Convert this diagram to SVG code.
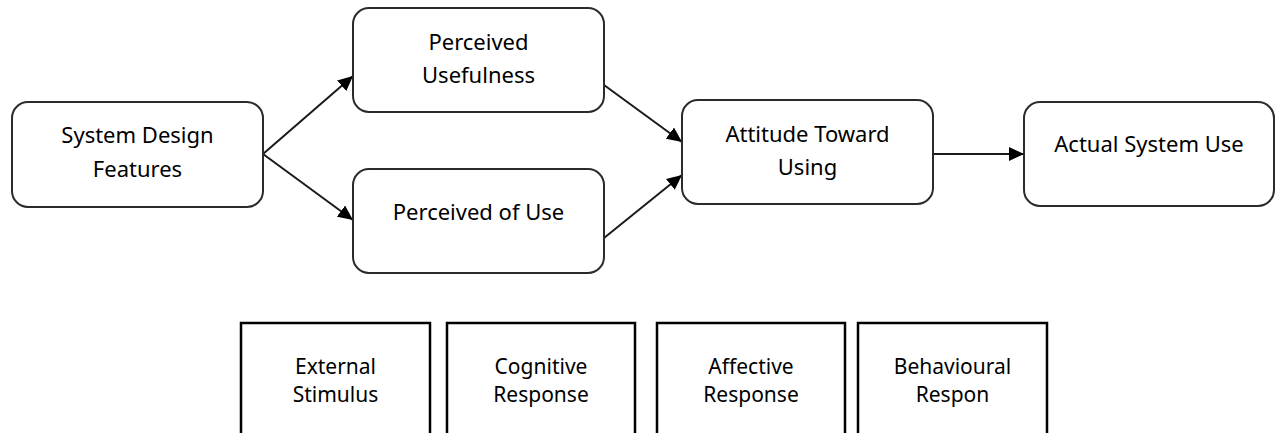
<svg xmlns="http://www.w3.org/2000/svg" width="1275" height="433" viewBox="0 0 1275 433">
<defs>
<style>
.node rect{fill:#fff;stroke:#2b2b2b;stroke-width:2}
.stage rect{fill:#fff;stroke:#000;stroke-width:2.5}
.t{font-family:"Noto Sans","Open Sans",sans-serif;font-size:22px;fill:#000;text-anchor:middle}
.s{font-family:"Noto Sans","Open Sans",sans-serif;font-size:21px;fill:#000;text-anchor:middle}
.conn line{stroke:#1a1a1a;stroke-width:2;marker-end:url(#arr)}
</style>
<marker id="arr" markerUnits="userSpaceOnUse" markerWidth="16" markerHeight="14" refX="15" refY="7" orient="auto">
<path d="M0,0 L15,7 L0,14 Z" fill="#000"/>
</marker>
</defs>
<rect width="1275" height="433" fill="#fff"/>
<g id="connectors" class="conn">
<line x1="263" y1="154" x2="353" y2="76"/>
<line x1="263" y1="154" x2="353" y2="220"/>
<line x1="604" y1="85" x2="682" y2="142"/>
<line x1="604" y1="238" x2="682" y2="175"/>
<line x1="933" y1="154" x2="1024" y2="154"/>
</g>
<g id="n-sdf" class="node">
<rect x="12" y="102" width="251" height="105" rx="16"/>
<text class="t" x="137.5" y="143">System Design</text>
<text class="t" x="137.5" y="177">Features</text>
</g>
<g id="n-pu" class="node">
<rect x="353" y="8" width="251" height="104" rx="16"/>
<text class="t" x="478.5" y="50">Perceived</text>
<text class="t" x="478.5" y="83">Usefulness</text>
</g>
<g id="n-peou" class="node">
<rect x="353" y="169" width="251" height="104" rx="16"/>
<text class="t" x="478.5" y="220">Perceived of Use</text>
</g>
<g id="n-att" class="node">
<rect x="682" y="100" width="251" height="104" rx="16"/>
<text class="t" x="807.5" y="142">Attitude Toward</text>
<text class="t" x="807.5" y="175">Using</text>
</g>
<g id="n-use" class="node">
<rect x="1024" y="102" width="250" height="104" rx="16"/>
<text class="t" x="1149" y="152">Actual System Use</text>
</g>
<g id="s-ext" class="stage">
<rect x="241" y="323" width="189" height="130"/>
<text class="s" x="335.5" y="374">External</text>
<text class="s" x="335.5" y="402">Stimulus</text>
</g>
<g id="s-cog" class="stage">
<rect x="447" y="323" width="188" height="130"/>
<text class="s" x="541" y="374">Cognitive</text>
<text class="s" x="541" y="402">Response</text>
</g>
<g id="s-aff" class="stage">
<rect x="657" y="323" width="188" height="130"/>
<text class="s" x="751" y="374">Affective</text>
<text class="s" x="751" y="402">Response</text>
</g>
<g id="s-beh" class="stage">
<rect x="858" y="323" width="189" height="130"/>
<text class="s" x="952.5" y="374">Behavioural</text>
<text class="s" x="952.5" y="402">Respon</text>
</g>
</svg>
